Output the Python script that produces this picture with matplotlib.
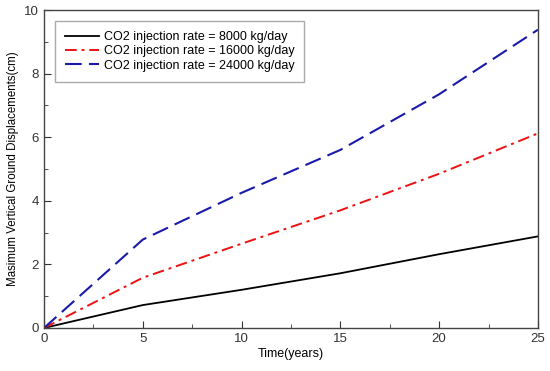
import matplotlib
matplotlib.use("Agg")
import matplotlib.pyplot as plt
from matplotlib.ticker import MultipleLocator

plt.rcParams['font.family'] = ['Liberation Sans', 'DejaVu Sans']

years = [0, 5, 10, 15, 20, 25]
rate_8000 = [0, 0.72, 1.2, 1.72, 2.32, 2.88]
rate_16000 = [0, 1.58, 2.65, 3.7, 4.85, 6.12]
rate_24000 = [0, 2.78, 4.25, 5.6, 7.35, 9.38]
labels = ["CO2 injection rate = 8000 kg/day",
          "CO2 injection rate = 16000 kg/day",
          "CO2 injection rate = 24000 kg/day"]

fig = plt.figure(figsize=(5.5, 3.71), dpi=100)
ax = fig.add_axes([0.08, 0.116, 0.898, 0.857])

ax.plot(years, rate_8000, color='black', lw=1.3, ls='-', label=labels[0])
ax.plot(years, rate_16000, color='#ee1111', lw=1.4, ls=(0, (6, 2.5, 1.5, 2.5)), label=labels[1])
ax.plot(years, rate_24000, color='#1a1aaa', lw=1.5, ls=(0, (8, 3.5)), label=labels[2])

ax.set_xlim(0, 25)
ax.set_ylim(0, 10)
ax.xaxis.set_major_locator(MultipleLocator(5))
ax.xaxis.set_minor_locator(MultipleLocator(2.5))
ax.yaxis.set_major_locator(MultipleLocator(2))
ax.yaxis.set_minor_locator(MultipleLocator(1))
ax.tick_params(which='both', direction='in', labelsize=9.5, colors='#333333', top=False, right=False)
ax.tick_params(which='major', length=5)
ax.tick_params(which='minor', length=3)
for s in ax.spines.values():
    s.set_color('#444444')
    s.set_linewidth(1.0)

ax.set_xlabel("Time(years)", fontsize=9, labelpad=2)
ax.set_ylabel("Masimum Vertical Ground Displacements(cm)", fontsize=8.3, labelpad=4)

leg = ax.legend(loc='upper left', fontsize=9, fancybox=False, edgecolor='#aaaaaa',
                framealpha=1, handlelength=2.7, handletextpad=0.4, borderpad=0.8,
                labelspacing=0.18, borderaxespad=0, bbox_to_anchor=(0.022, 0.965))
leg.get_frame().set_linewidth(1.0)

fig.savefig("out.png", dpi=100)
